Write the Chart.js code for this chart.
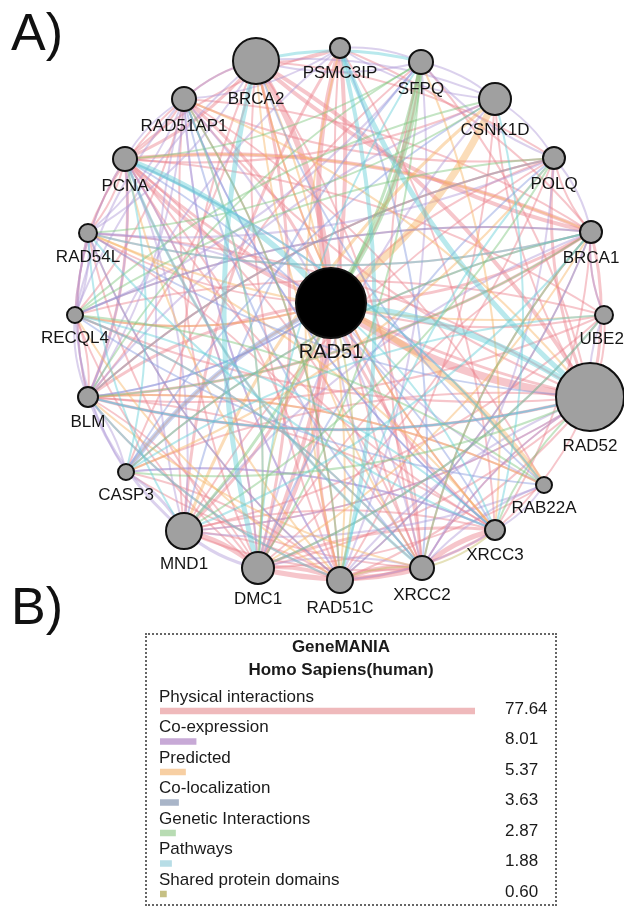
<!DOCTYPE html>
<html>
<head>
<meta charset="utf-8">
<title>RAD51 GeneMANIA network</title>
<script src="https://cdn.jsdelivr.net/npm/chart.js@4.4.0/dist/chart.umd.min.js"></script>
<style>
html, body { margin: 0; padding: 0; background: #fff; overflow: hidden; }
body { width: 624px; height: 908px; position: relative; font-family: "Liberation Sans", Arial, sans-serif; }
.panel-tag { position: absolute; left: 11px; font-size: 52px; line-height: 52px; color: #111; }
#netCanvas { position: absolute; left: 0; top: 0; }
.legend-box { position: absolute; left: 145px; top: 633px; width: 408px; height: 269px; border: 2px dotted #666; }
#barCanvas { position: absolute; left: 145px; top: 633px; }
</style>
</head>
<body>
<canvas id="netCanvas" width="624" height="620"></canvas>
<div class="panel-tag" style="top:6px">A)</div>
<div class="panel-tag" style="top:580px">B)</div>
<div class="legend-box"></div>
<canvas id="barCanvas" width="412" height="290"></canvas>
<script>
// Network nodes (GeneMANIA circular layout)
var nodeNames = ['RAD51', 'BRCA2', 'PSMC3IP', 'SFPQ', 'CSNK1D', 'POLQ', 'BRCA1', 'UBE2I', 'RAD52',
    'RAB22A', 'XRCC3', 'XRCC2', 'RAD51C', 'DMC1', 'MND1', 'CASP3', 'BLM', 'RECQL4', 'RAD54L', 'PCNA', 'RAD51AP1'];
var nodeX = [331, 256, 340, 421, 495, 554, 591, 604, 590, 544, 495, 422, 340, 258, 184, 126, 88, 75, 88, 125, 184];
var nodeY = [303, 61, 48, 62, 99, 158, 232, 315, 397, 485, 530, 568, 580, 568, 531, 472, 397, 315, 233, 159, 99];
var nodeSize = [35, 23, 10, 12, 16, 11, 11, 9, 34, 8, 10, 12, 13, 16, 18, 8, 10, 8, 9, 12, 12];

// Edges per network type: [from, to, weight]
var physicalEdges = [[0,1,6],[0,2,5],[0,8,8],[0,13,4],[0,12,3],[0,11,3],[0,10,3],[0,14,3],[0,20,3],[0,19,4],
    [0,16,3],[0,18,2],[0,6,3],[0,5,2],[0,7,2],[0,17,2],[0,3,2],
    [1,8,4],[1,6,4],[1,19,3],[1,20,2],[1,13,3],[1,12,2],[1,11,2],[1,10,2],[1,16,2],[1,2,2],[1,5,2],[1,14,2],
    [2,13,4],[2,14,3],[2,6,2],[2,19,2],
    [6,8,3],[6,19,4],[6,16,3],[6,20,2],[6,12,2],[6,11,2],[6,10,2],[6,17,2],[6,18,2],[6,13,2],[6,5,2],[6,7,2],
    [19,16,3],[19,8,3],[19,18,2],[19,17,2],[19,12,2],[19,11,2],[19,13,2],
    [16,17,2],[16,18,2],[16,8,3],[16,10,2],[16,12,2],[16,13,2],
    [13,14,5],[13,12,4],[13,11,5],[13,10,3],[13,8,2],
    [12,11,5],[12,10,3],[11,10,5],[12,8,2],[11,8,2],[10,8,2],
    [14,12,2],[14,11,2],[14,10,2],[5,8,3],[5,20,2],[5,16,2],[4,19,2],[3,15,2],[7,8,2],[20,8,2],[18,8,2],[17,8,2],[15,8,2],[9,16,2],
    [20,19,2],[20,18,2],[20,17,2],[20,13,2],[20,12,2],[18,13,2],[18,11,2],[17,13,2],[17,11,2],[15,11,2],[15,12,2],
    [14,8,2],[5,13,2],[5,14,2],[4,12,2],[4,8,2],[3,8,2],[3,11,2],[2,10,2],[2,11,2],[7,14,2],[7,19,2],[9,13,2],
    [9,20,2],[10,19,2],[11,19,2],[12,18,2],[16,7,2],[17,7,2]];
var coexpressionEdges = [[20,1,2],[20,19,2],[20,18,2],[20,17,2],[20,16,2],[20,12,2],[20,11,2],[19,17,2],[19,14,2],[18,16,2],
    [18,17,2],[17,16,2],[16,15,2],[16,14,3],[15,14,3],[14,13,3],[13,11,2],[12,10,2],[11,9,2],[10,9,2],[5,6,2],[5,4,2],
    [5,3,2],[4,3,2],[4,2,2],[3,2,2],[2,20,2],[1,3,2],[1,4,2],[6,7,2],[8,7,2],[8,12,2],[8,14,2],[6,14,2],[5,11,2],
    [4,13,2],[3,12,2],[20,10,2],[19,9,2],[0,9,2],[15,10,2],
    [1,17,2],[1,18,2],[2,16,2],[3,17,2],[4,16,2],[5,18,2],[6,15,2],[7,13,2],[8,11,2],[9,14,2],[10,15,2],
    [12,20,2],[13,19,2],[14,20,2],[0,11,2],[0,16,2],[0,18,2],[19,16,2],[17,15,2]];
var predictedEdges = [[0,4,7],[0,9,6],[0,15,2],[0,17,2],[1,10,2],[1,12,2],[19,12,2],[20,13,2],[16,11,2],[18,10,2],
    [17,12,2],[14,4,3],[13,6,2],[11,1,2],[15,5,2],[16,5,2],[10,3,2],[12,2,2],[8,20,2],[19,6,2],[18,7,2],[16,9,2]];
var colocalizationEdges = [[15,0,5],[16,0,2],[17,6,2],[18,12,2],[19,10,2],[20,11,2],[14,3,2],[16,8,2],[13,5,2],
    [1,9,2],[2,11,2],[12,6,2],[10,20,2],[17,9,2],[15,4,2],[18,8,2],[16,5,2]];
var geneticEdges = [[0,3,6],[3,14,3],[16,6,2],[17,5,2],[18,4,2],[16,3,2],[19,3,2],[15,6,2],[13,7,2],[11,6,2],
    [12,20,2],[10,8,2],[9,17,2],[8,15,2],[14,5,2],[17,4,2],[13,3,2]];
var pathwayEdges = [[19,0,6],[1,13,5],[0,8,6],[2,8,5],[2,12,4],[3,13,2],[4,10,2],[5,12,2],[6,14,2],[7,15,2],
    [8,16,2],[9,19,2],[10,18,2],[11,17,2],[12,16,2],[13,20,2],[14,18,2],[15,19,2],[1,3,3],[19,11,3],[0,10,2],
    [18,6,2],[17,10,2]];
var sharedDomainEdges = [[0,13,2],[0,12,2],[11,12,2],[10,11,2]];

// Network weights (%) for panel B
var networkTypes = ['Physical interactions', 'Co-expression', 'Predicted', 'Co-localization',
    'Genetic Interactions', 'Pathways', 'Shared protein domains'];
var networkWeights = [77.64, 8.01, 5.37, 3.63, 2.87, 1.88, 0.60];
var weightLabels = ['77.64', '8.01', '5.37', '3.63', '2.87', '1.88', '0.60'];

var edgeSets = [physicalEdges, coexpressionEdges, predictedEdges, colocalizationEdges,
    geneticEdges, pathwayEdges, sharedDomainEdges];
var edgeColors = ['rgba(234,128,140,0.45)', 'rgba(176,152,216,0.45)', 'rgba(246,180,100,0.45)',
    'rgba(132,152,222,0.45)', 'rgba(124,198,124,0.45)', 'rgba(100,206,216,0.45)', 'rgba(198,188,100,0.45)'];
var barColors = ['#efb9bb', '#c7a9d6', '#f7cfa3', '#a9b5c8', '#b8dcb3', '#b7dde6', '#c6c084'];
var labelFont = '"Liberation Sans", Arial, sans-serif';

// Draw the edges under the nodes as bent arcs
var edgePlugin = {
    id: 'edges',
    beforeDatasetsDraw: function(chart) {
        var ctx = chart.ctx, xs = chart.scales.x, ys = chart.scales.y;
        ctx.save();
        ctx.lineCap = 'round';
        edgeSets.forEach(function(set, k) {
            ctx.strokeStyle = edgeColors[k];
            set.forEach(function(e, j) {
                var x1 = xs.getPixelForValue(nodeX[e[0]]), y1 = ys.getPixelForValue(nodeY[e[0]]);
                var x2 = xs.getPixelForValue(nodeX[e[1]]), y2 = ys.getPixelForValue(nodeY[e[1]]);
                var dx = x2 - x1, dy = y2 - y1;
                var bend = ((k + j) % 2 ? -1 : 1) * 0.13;
                var cx = (x1 + x2) / 2 - dy * bend, cy = (y1 + y2) / 2 + dx * bend;
                ctx.lineWidth = e[2];
                ctx.beginPath();
                ctx.moveTo(x1, y1);
                ctx.quadraticCurveTo(cx, cy, x2, y2);
                ctx.stroke();
            });
        });
        ctx.restore();
    }
};

// Gene names under each node
var nodeLabelPlugin = {
    id: 'nodeLabels',
    afterDatasetsDraw: function(chart) {
        var ctx = chart.ctx;
        var meta = chart.getDatasetMeta(0);
        ctx.save();
        ctx.fillStyle = '#151515';
        ctx.textAlign = 'center';
        ctx.textBaseline = 'middle';
        meta.data.forEach(function(pt, i) {
            var big = i === 0;
            ctx.font = (big ? 20 : 17) + 'px ' + labelFont;
            ctx.fillText(nodeNames[i], pt.x, pt.y + nodeSize[i] + (big ? 14 : 15));
        });
        ctx.restore();
    }
};

new Chart(document.getElementById('netCanvas'), {
    type: 'scatter',
    data: {
        datasets: [{
            data: nodeX.map(function(x, i) { return {x: x, y: nodeY[i]}; }),
            pointRadius: nodeSize,
            pointHoverRadius: nodeSize,
            pointBackgroundColor: nodeNames.map(function(n, i) { return i === 0 ? '#000' : '#a0a0a0'; }),
            pointBorderColor: '#111',
            pointBorderWidth: 2,
            clip: false
        }]
    },
    options: {
        responsive: false,
        animation: false,
        events: [],
        layout: { padding: 0, autoPadding: false },
        scales: {
            x: { type: 'linear', min: 0, max: 624, display: false },
            y: { type: 'linear', min: 0, max: 620, reverse: true, display: false }
        },
        plugins: { legend: { display: false }, tooltip: { enabled: false } }
    },
    plugins: [edgePlugin, nodeLabelPlugin]
});

// Panel B text: title, category names above bars, percentages at right
var barTextPlugin = {
    id: 'barText',
    afterDatasetsDraw: function(chart) {
        var ctx = chart.ctx;
        var meta = chart.getDatasetMeta(0);
        ctx.save();
        ctx.fillStyle = '#1a1a1a';
        ctx.textBaseline = 'middle';
        ctx.textAlign = 'center';
        ctx.font = 'bold 17px ' + labelFont;
        ctx.fillText('GeneMANIA', 196, 14);
        ctx.fillText('Homo Sapiens(human)', 196, 37);
        ctx.textAlign = 'left';
        ctx.font = '17px ' + labelFont;
        meta.data.forEach(function(bar, i) {
            ctx.fillText(networkTypes[i], chart.chartArea.left - 1, bar.y - 14);
            ctx.fillText(weightLabels[i], 360, bar.y - 2);
        });
        ctx.restore();
    }
};

new Chart(document.getElementById('barCanvas'), {
    type: 'bar',
    data: {
        labels: networkTypes,
        datasets: [{
            data: networkWeights,
            backgroundColor: barColors,
            barThickness: 6,
            base: -1
        }]
    },
    options: {
        indexAxis: 'y',
        responsive: false,
        animation: false,
        events: [],
        layout: { padding: { left: 15, right: 82, top: 62.75, bottom: 13.75 } },
        scales: {
            x: { display: false, min: -1, max: 77.64 },
            y: { display: false }
        },
        plugins: { legend: { display: false }, tooltip: { enabled: false } }
    },
    plugins: [barTextPlugin]
});
</script>
</body>
</html>
